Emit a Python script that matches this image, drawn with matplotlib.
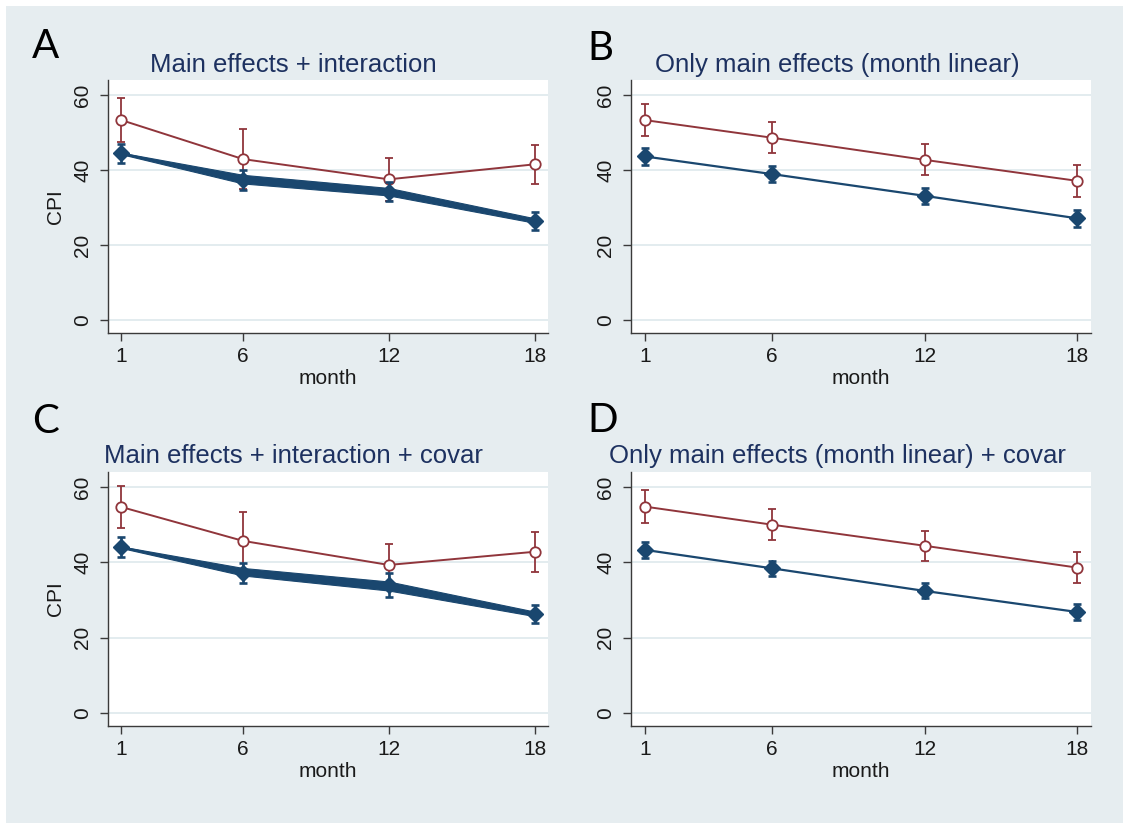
import numpy as np
import matplotlib
matplotlib.use("Agg")
import matplotlib.pyplot as plt
from matplotlib.patches import Rectangle

plt.rcParams['font.family'] = ['Liberation Sans', 'DejaVu Sans']

# data
months = [1, 6, 12, 18]

a_red = [53.3, 42.9, 37.5, 41.5]
a_red_err = [5.8, 8.1, 5.8, 5.2]
a_blue = [44.4, 37.3, 34.2, 26.4]
a_blue_err = [2.5, 2.7, 2.5, 2.5]
a_band_hi = [44.6, 38.7, 35.2, 27.1]
a_band_lo = [44.2, 36.4, 33.2, 25.9]

b_red = [53.3, 48.6, 42.7, 37.1]
b_red_err = [4.3, 4.1, 4.1, 4.2]
b_blue = [43.6, 38.9, 33.1, 27.1]
b_blue_err = [2.2, 2.1, 2.1, 2.2]

c_red = [54.7, 45.7, 39.3, 42.8]
c_red_err = [5.5, 7.8, 5.6, 5.25]
c_blue = [44.0, 37.1, 34.0, 26.2]
c_blue_err = [2.6, 2.65, 3.1, 2.45]
c_band_hi = [44.2, 38.5, 34.9, 26.9]
c_band_lo = [43.8, 36.5, 32.5, 25.7]

d_red = [54.8, 50.0, 44.4, 38.6]
d_red_err = [4.4, 4.1, 4.0, 4.2]
d_blue = [43.3, 38.4, 32.4, 26.8]
d_blue_err = [2.1, 2.0, 2.0, 2.2]

titles = ["Main effects + interaction",
          "Only main effects (month linear)",
          "Main effects + interaction + covar",
          "Only main effects (month linear) + covar"]
letters = ["A", "B", "C", "D"]

navy = '#1a476f'
maroon = '#90353b'
bg = '#e6edf0'
grid_c = '#e1eaee'
title_c = '#1d3160'

W, H = 1125, 825
fig = plt.figure(figsize=(W / 100, H / 100), dpi=100)
fig.patch.set_facecolor('white')
fig.patches.append(Rectangle((6 / W, 2 / H), (W - 8) / W, (H - 8) / H,
                             transform=fig.transFigure, facecolor=bg,
                             edgecolor='none', zorder=-10))

# axes boxes in pixels: left, top, right, bottom
boxes = [(108, 80, 548, 333), (631, 80, 1091, 333),
         (108, 472, 548, 726), (631, 472, 1091, 726)]
title_pos = [(293, 71.7), (837, 71.7), (293, 463.3), (837, 463.3)]
letter_pos = [(32, 46.5), (587, 48), (32, 421.5), (587, 421)]

panels = [
    (a_red, a_red_err, a_blue, a_blue_err, a_band_hi, a_band_lo),
    (b_red, b_red_err, b_blue, b_blue_err, None, None),
    (c_red, c_red_err, c_blue, c_blue_err, c_band_hi, c_band_lo),
    (d_red, d_red_err, d_blue, d_blue_err, None, None),
]

for i, (red, red_err, blue, blue_err, hi, lo) in enumerate(panels):
    l, t, r, b = boxes[i]
    ax = fig.add_axes([l / W, 1 - b / H, (r - l) / W, (b - t) / H])
    ax.set_facecolor('white')

    ax.errorbar(months, red, yerr=red_err, fmt='none', ecolor=maroon,
                elinewidth=1.3, capsize=3, capthick=1.3, zorder=3)
    ax.plot(months, red, color=maroon, lw=1.4, marker='o', ms=7.5,
            mfc='white', mec=maroon, mew=1.3, zorder=4)

    if hi is not None:
        ax.fill_between(months, lo, hi, color=navy, lw=0.8, zorder=5)
    ax.errorbar(months, blue, yerr=blue_err, fmt='none', ecolor=navy,
                elinewidth=1.9, capsize=3, capthick=1.9, zorder=5)
    ax.plot(months, blue, color=navy, lw=1.6, marker='D', ms=8.5,
            mfc=navy, mec=navy, zorder=6)

    ax.set_xlim(0.45, 18.55)
    ax.set_ylim(-3.5, 64)
    ax.set_xticks(months)
    ax.set_yticks([0, 20, 40, 60])
    ax.set_yticklabels(['0', '20', '40', '60'], rotation=90, va='center')
    ax.grid(axis='y', color=grid_c, lw=1.3, zorder=0)
    ax.set_axisbelow(True)

    for s in ['top', 'right']:
        ax.spines[s].set_visible(False)
    for s in ['left', 'bottom']:
        ax.spines[s].set_color('#3a3a3a')
        ax.spines[s].set_linewidth(1.0)
    ax.tick_params(axis='both', direction='out', length=5.5, width=1.0,
                   color='#3a3a3a', labelsize=15, labelcolor='#1a1a1a')
    ax.tick_params(axis='x', pad=4.5)
    ax.tick_params(axis='y', pad=6)

    ax.set_xlabel('month', fontsize=15, color='#1a1a1a', labelpad=2.5)
    if i in (0, 2):
        ax.set_ylabel('CPI', fontsize=15, color='#1a1a1a', va='center')
        ax.yaxis.set_label_coords(-0.12, 0.5)

    tx, ty = title_pos[i]
    fig.text(tx / W, 1 - ty / H, titles[i], ha='center', va='baseline',
             fontsize=18.5, color=title_c)
    lx, ly = letter_pos[i]
    fig.text(lx / W, 1 - ly / H, letters[i], ha='left', va='center',
             fontsize=29, color='black', family=['Lato', 'DejaVu Sans'])

fig.savefig('out.png', dpi=100, facecolor=fig.get_facecolor())
